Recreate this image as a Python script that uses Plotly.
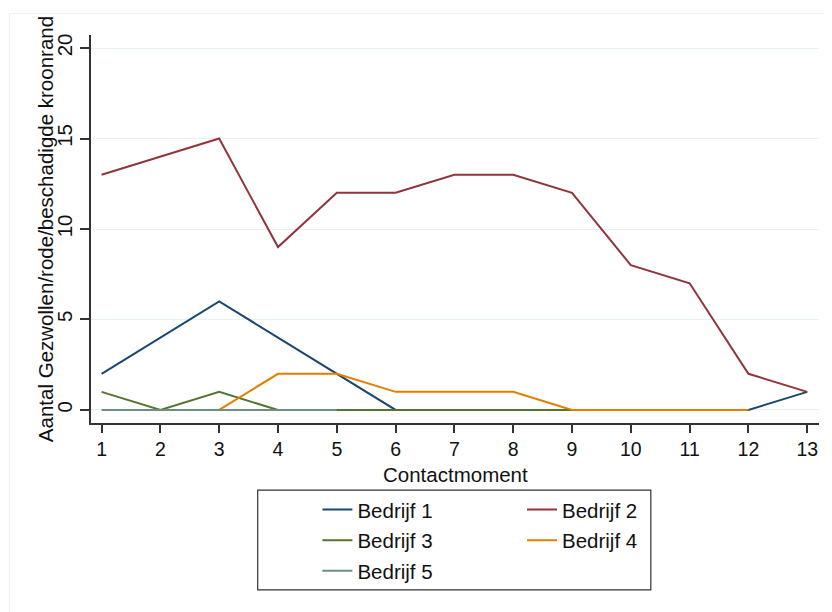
import plotly.graph_objects as go

contactmoment = list(range(1, 14))

bedrijf_1 = [2, 4, 6, 4, 2, 0, 0, 0, 0, 0, 0, 0, 1]
bedrijf_2 = [13, 14, 15, 9, 12, 12, 13, 13, 12, 8, 7, 2, 1]
bedrijf_3 = [1, 0, 1, 0, 0, 0, 0, 0, 0, 0, 0, 0, None]
bedrijf_4 = [None, None, 0, 2, 2, 1, 1, 1, 0, 0, 0, 0, None]
bedrijf_5 = [0, 0, 0, 0, 0, None, None, None, None, None, None, None, None]

series = [
    ("Bedrijf 1", bedrijf_1, "#1a476f", "legend"),
    ("Bedrijf 2", bedrijf_2, "#90353b", "legend2"),
    ("Bedrijf 3", bedrijf_3, "#55752f", "legend"),
    ("Bedrijf 4", bedrijf_4, "#e37e00", "legend2"),
    ("Bedrijf 5", bedrijf_5, "#6e8e84", "legend"),
]

FONT = "Liberation Sans, Arial, sans-serif"
FS = 20.5

fig = go.Figure()
for i, (naam, waarden, kleur, leg) in enumerate(series):
    fig.add_trace(go.Scatter(
        x=contactmoment, y=waarden, mode="lines", name=naam,
        line=dict(color=kleur, width=2),
        legend=leg, legendgroup="g%d" % i,
        hoverinfo="skip",
    ))

# page has an 8px body margin, so margins are shifted by 8px
fig.update_layout(
    width=832, height=612,
    margin=dict(l=83, r=21, t=27, b=197),
    paper_bgcolor="white", plot_bgcolor="white",
    font=dict(family=FONT, size=FS, color="#111111"),
    legend=dict(x=0.311, y=-0.172, xanchor="left", yanchor="top",
                bgcolor="rgba(0,0,0,0)", tracegroupgap=1,
                font=dict(size=FS)),
    legend2=dict(x=0.592, y=-0.172, xanchor="left", yanchor="top",
                 bgcolor="rgba(0,0,0,0)", tracegroupgap=1,
                 font=dict(size=FS)),
    shapes=[
        dict(type="rect", xref="paper", yref="paper",
             x0=0.229, x1=0.769, y0=-0.430, y1=-0.173,
             line=dict(color="#333333", width=1.2)),
        dict(type="rect", xref="paper", yref="paper",
             x0=-0.112, x1=1.1, y0=-0.7, y1=1.055,
             line=dict(color="#eeeeee", width=1)),
    ],
    annotations=[
        dict(text="Aantal Gezwollen/rode/beschadigde kroonrand",
             xref="paper", yref="paper", x=-0.063, y=0.5,
             xanchor="center", yanchor="middle", textangle=-90,
             showarrow=False, font=dict(size=FS)),
        dict(text="Contactmoment",
             xref="paper", yref="paper", x=0.5, y=-0.133,
             xanchor="center", yanchor="middle",
             showarrow=False, font=dict(size=FS)),
    ],
)

fig.update_xaxes(
    range=[0.82, 13.2], tickvals=contactmoment,
    showline=True, linecolor="#333333", linewidth=1.5,
    ticks="outside", ticklen=8, tickcolor="#333333", tickwidth=1.5,
    showgrid=False, zeroline=False,
    tickfont=dict(size=19.5),
)
fig.update_yaxes(
    range=[-0.72, 20.72], tickvals=[0, 5, 10, 15, 20],
    showline=True, linecolor="#333333", linewidth=1.5,
    ticks="outside", ticklen=9, tickcolor="#333333", tickwidth=1.5,
    showgrid=True, gridcolor="#eaf1f3", gridwidth=1, zeroline=False,
    tickangle=-90, tickfont=dict(size=FS),
)

fig.write_html("out.html")
